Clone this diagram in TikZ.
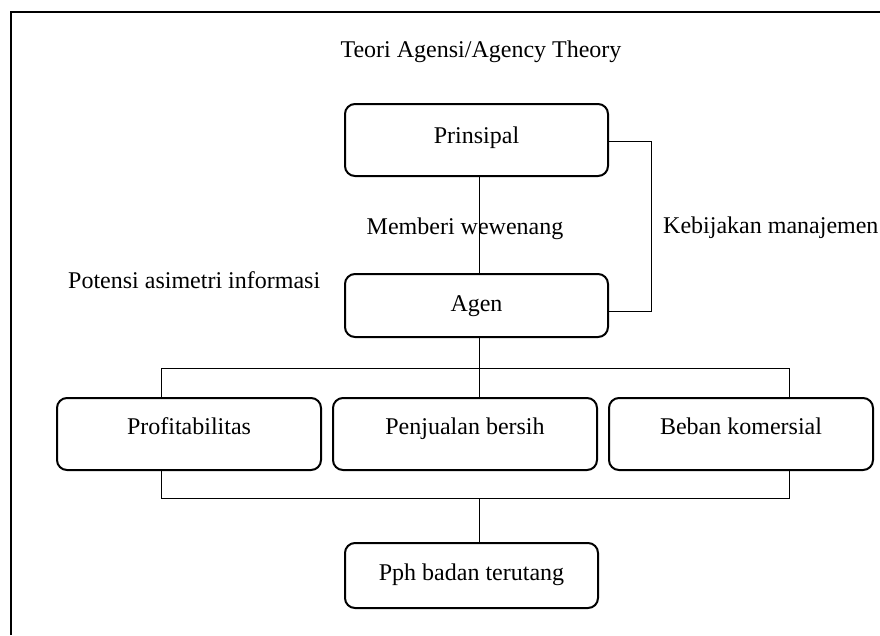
\documentclass[tikz,border=0pt]{standalone}
\usepackage{fontspec}
\setmainfont{Liberation Serif}
\begin{document}
\begin{tikzpicture}[x=1pt,y=-1pt,
  font=\fontsize{24}{28}\selectfont,
  boxnode/.style={draw, line width=2pt, rounded corners=10pt, inner sep=0pt, minimum width=264pt, anchor=north},
  conn/.style={line width=1pt},
  frameline/.style={line width=2.4pt},
  lbl/.style={inner sep=0pt, anchor=base}]
\useasboundingbox (0,0) rectangle (880,635);
% frame
\draw[frameline] (11,635) -- (11,12) -- (880,12);
% title
\node[lbl] (title) at (481,57) {Teori Agensi/Agency Theory};
% boxes
\node[boxnode, minimum width=263pt, text height=39pt, text depth=33pt] (prin) at (476.5,103) {Prinsipal};
\node[boxnode, minimum width=263pt, text height=37pt, text depth=26pt] (agen) at (476.5,273) {Agen};
\node[boxnode, text height=36pt, text depth=36pt] (prof) at (189,397) {Profitabilitas};
\node[boxnode, text height=36pt, text depth=36pt] (penj) at (465,397) {Penjualan bersih};
\node[boxnode, text height=36pt, text depth=36pt] (beban) at (741,397) {Beban komersial};
\node[boxnode, minimum width=253pt, text height=37pt, text depth=28pt] (pph) at (471.5,542) {Pph badan terutang};
% labels
\node[lbl] (memberi) at (465,234) {Memberi wewenang};
\node[lbl, anchor=base west] (kebij) at (663,233) {Kebijakan manajemen};
\node[lbl, anchor=base west] (potensi) at (68,288) {Potensi asimetri informasi};
% coordinates
\coordinate (Lx) at (479,0);
\coordinate (k1) at (651,141);
\coordinate (k2) at (651,311);
\coordinate (tl) at (161,368);
\coordinate (tr) at (789,368);
\coordinate (bl) at (161,498);
\coordinate (br) at (789,498);
% connectors
\draw[conn] (prin.south -| Lx) -- (agen.north -| Lx);
\draw[conn] (prin.east |- k1) -- (k1) -- (k2) -- (agen.east |- k2);
\draw[conn] (agen.south -| Lx) -- (penj.north -| Lx);
\draw[conn] (prof.north -| tl) -- (tl) -- (tr) -- (beban.north -| tr);
\draw[conn] (prof.south -| bl) -- (bl) -- (br) -- (beban.south -| br);
\draw[conn] (bl -| Lx) -- (pph.north -| Lx);
\end{tikzpicture}
\end{document}
